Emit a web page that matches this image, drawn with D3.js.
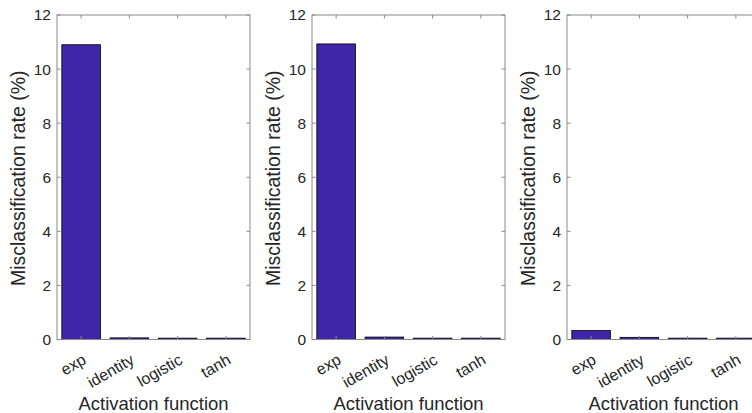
<!DOCTYPE html>
<html><head><meta charset="utf-8">
<script src="https://cdn.jsdelivr.net/npm/d3@7"></script>
<style>body{margin:0;background:#fff;overflow:hidden}svg{display:block}text{font-family:"Liberation Sans",Arial,sans-serif}</style>
</head><body>
<script>
const categories = ["exp", "identity", "logistic", "tanh"];
const panel1 = [10.90, 0.06, 0.05, 0.05];
const panel2 = [10.93, 0.09, 0.05, 0.05];
const panel3 = [0.33, 0.08, 0.05, 0.05];
const yTicks = [0, 2, 4, 6, 8, 10, 12];
const yLabel = "Misclassification rate (%)";
const xLabel = "Activation function";
const panels = [panel1, panel2, panel3];

(function () {
const W = 752, H = 413;
const svg = d3.select("body").append("svg").attr("width", W).attr("height", H);
const lefts = [57, 312, 567];
const pw = 193, yTop = 15, yBot = 339.5;
const axisCol = "#8a8a8a", textCol = "#262626", barCol = "#3e26a8";

panels.forEach((vals, pi) => {
  const x0 = lefts[pi];
  const g = svg.append("g");
  const x = d3.scaleLinear().domain([0.5, 4.5]).range([x0, x0 + pw]);
  const y = d3.scaleLinear().domain([0, 12]).range([yBot, yTop]);
  const bw = (x(2) - x(1)) * 0.8;
  g.selectAll("rect.bar").data(vals).join("rect")
    .attr("x", (d, i) => x(i + 1) - bw / 2)
    .attr("width", bw)
    .attr("y", d => y(d))
    .attr("height", d => y(0) - y(d))
    .attr("fill", barCol).attr("stroke", "#000").attr("stroke-width", 0.8);
  g.append("rect").attr("x", x0).attr("y", yTop).attr("width", pw).attr("height", yBot - yTop)
    .attr("fill", "none").attr("stroke", axisCol).attr("stroke-width", 1);
  const tl = 3.5;
  yTicks.forEach(t => {
    const yy = y(t);
    g.append("line").attr("x1", x0).attr("x2", x0 + tl).attr("y1", yy).attr("y2", yy).attr("stroke", axisCol);
    g.append("line").attr("x1", x0 + pw).attr("x2", x0 + pw - tl).attr("y1", yy).attr("y2", yy).attr("stroke", axisCol);
    g.append("text").attr("x", x0 - 6).attr("y", yy).attr("dy", "0.35em")
      .attr("text-anchor", "end").attr("font-size", 15.5).attr("fill", textCol).text(t);
  });
  categories.forEach((c, i) => {
    const xx = x(i + 1);
    g.append("line").attr("x1", xx).attr("x2", xx).attr("y1", yBot).attr("y2", yBot - tl).attr("stroke", axisCol);
    g.append("line").attr("x1", xx).attr("x2", xx).attr("y1", yTop).attr("y2", yTop + tl).attr("stroke", axisCol);
    g.append("text").attr("transform", `translate(${xx},${yBot + 13}) rotate(-30)`)
      .attr("text-anchor", "end").attr("dy", "0.75em")
      .attr("font-size", 16).attr("fill", textCol).text(c);
  });
  g.append("text").attr("x", x0 + pw / 2).attr("y", 410).attr("text-anchor", "middle")
    .attr("font-size", 18.5).attr("fill", textCol).text(xLabel);
  g.append("text").attr("transform", `translate(${x0 - 32},${(yTop + yBot) / 2 + 1}) rotate(-90)`)
    .attr("text-anchor", "middle").attr("font-size", 19.5).attr("fill", textCol).text(yLabel);
});
})();
</script>
</body></html>
